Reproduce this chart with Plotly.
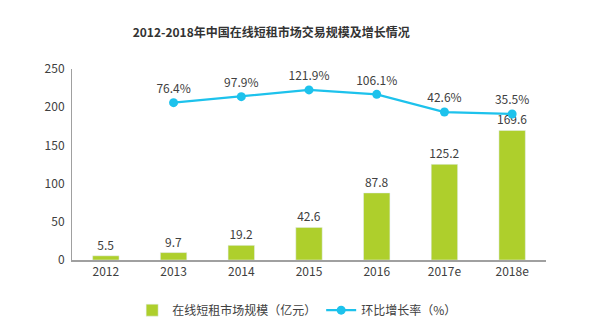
import plotly.graph_objects as go

years = ["2012", "2013", "2014", "2015", "2016", "2017e", "2018e"]
scale = [5.5, 9.7, 19.2, 42.6, 87.8, 125.2, 169.6]
growth_years = ["2013", "2014", "2015", "2016", "2017e", "2018e"]
growth = [76.4, 97.9, 121.9, 106.1, 42.6, 35.5]
yticks = [0, 50, 100, 150, 200, 250]

FONT = "Noto Sans CJK SC, Open Sans, sans-serif"
TXT = "#404040"

fig = go.Figure()
fig.add_trace(go.Bar(
    x=years, y=scale, name="在线短租市场规模（亿元）",
    marker_color="#aecf2c", width=0.39,
    text=[f"{v}" for v in scale], textposition="outside", constraintext="none",
    textfont=dict(size=12, color=TXT, family=FONT), cliponaxis=False,
))
fig.add_trace(go.Scatter(
    x=growth_years, y=growth, name="环比增长率（%）", yaxis="y2",
    mode="lines+markers+text",
    line=dict(color="#1dc2ec", width=2.2),
    marker=dict(size=9, color="#1dc2ec"),
    text=[f"{v}%" for v in growth], textposition="top center",
    textfont=dict(size=12, color=TXT, family=FONT), cliponaxis=False,
))

fig.update_layout(
    width=600, height=331,
    margin=dict(l=72, r=54, t=69, b=71, autoexpand=False),
    paper_bgcolor="white", plot_bgcolor="white",
    font=dict(family=FONT, color=TXT, size=12),
    title=dict(text="<b>2012-2018年中国在线短租市场交易规模及增长情况</b>",
               x=0.452, xanchor="center", y=0.9, yanchor="middle",
               font=dict(size=12, color="#333333", family=FONT)),
    xaxis=dict(showline=True, linecolor="#a0a0a0", linewidth=2, ticks="",
               showgrid=False, tickfont=dict(size=12, color=TXT)),
    yaxis=dict(range=[0, 250], tickvals=yticks, showgrid=False, zeroline=False,
               showline=True, linecolor="#a0a0a0", linewidth=1,
               tickfont=dict(size=12, color=TXT), ticklen=4, ticks="outside", tickcolor="white"),
    yaxis2=dict(range=[-488, 197], overlaying="y", side="right", visible=False),
    legend=dict(orientation="h", x=0.475, xanchor="center",
                yref="container", y=0.063, yanchor="middle",
                font=dict(size=12, color=TXT), itemwidth=30, traceorder="normal"),
    bargap=0.6, showlegend=True,
)

fig.write_html("out.html")
